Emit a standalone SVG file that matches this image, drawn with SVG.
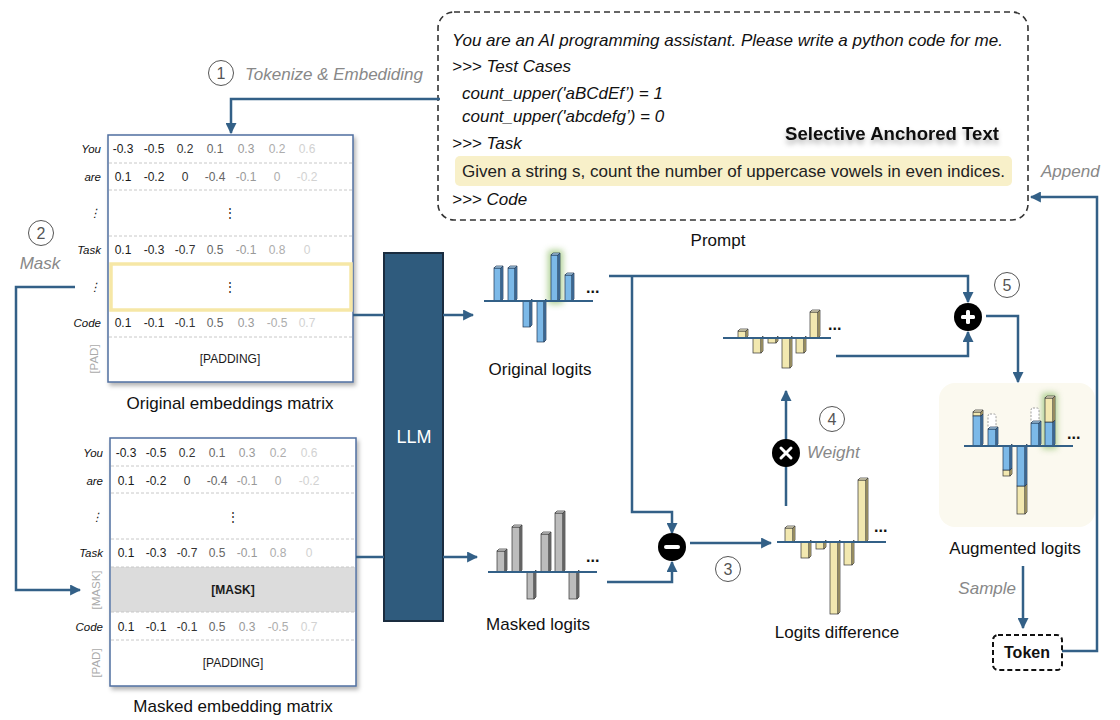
<svg xmlns="http://www.w3.org/2000/svg" width="1120" height="720" viewBox="0 0 1120 720">
<defs>
<style>
text{font-family:"Liberation Sans",Arial,sans-serif;}
.cap{font-size:17px;fill:#111;text-anchor:middle;}
.lbl{font-size:17px;fill:#888;font-style:italic;}
.num{font-size:16px;fill:#555;text-anchor:middle;}
.pr{font-size:17px;fill:#111;font-style:italic;}
.rl{font-size:11.5px;fill:#111;font-style:italic;text-anchor:end;}
.rg{font-size:11.5px;fill:#aaa;text-anchor:middle;}
.v{font-size:12px;text-anchor:middle;}
.c1{fill:#1a1a1a}.c2{fill:#262626}.c3{fill:#333}.c4{fill:#666}.c5{fill:#999}.c6{fill:#adadad}.c7{fill:#d2d2d2}
.sep{stroke:#c8c8c8;stroke-width:1;stroke-dasharray:3 2;}
.mat{fill:#fff;stroke:#4f6fa0;stroke-width:1.5;}
.conn{fill:none;stroke:#336087;stroke-width:2.5;}
.base{stroke:#336087;stroke-width:2;}
.circ{fill:#fff;stroke:#555;stroke-width:1;}
.bf{fill:#7cb9e8;stroke:#1f3550;stroke-width:0.7;}
.bs{fill:#4c82b2;stroke:#1f3550;stroke-width:0.7;}
.bt{fill:#b4dbf5;stroke:#1f3550;stroke-width:0.7;}
.gf{fill:#bcbcbc;stroke:#333;stroke-width:0.7;}
.gs{fill:#7d7d7d;stroke:#333;stroke-width:0.7;}
.gt{fill:#dedede;stroke:#333;stroke-width:0.7;}
.yf{fill:#f2e8b0;stroke:#333;stroke-width:0.7;}
.ys{fill:#c9bb78;stroke:#333;stroke-width:0.7;}
.yt{fill:#fbf4d3;stroke:#333;stroke-width:0.7;}
.dots{font-size:16px;font-weight:bold;fill:#111;}
.op{fill:#000;}
.glow{fill:#9cc57a;opacity:0.8;}
.dash{fill:#fff;stroke:#888;stroke-width:0.8;stroke-dasharray:2 1.5;}
</style>
<filter id="sh" x="-10%" y="-10%" width="130%" height="130%"><feDropShadow dx="2" dy="3" stdDeviation="2" flood-color="#000" flood-opacity="0.3"/></filter>
<filter id="tsh" x="-10%" y="-30%" width="130%" height="200%"><feDropShadow dx="0" dy="4" stdDeviation="2.5" flood-color="#000" flood-opacity="0.3"/></filter>
<filter id="gl" x="-100%" y="-50%" width="300%" height="200%"><feGaussianBlur stdDeviation="3"/></filter>
<marker id="ah" viewBox="0 0 10 10" refX="9" refY="5" markerWidth="4.4" markerHeight="4.4" orient="auto" markerUnits="strokeWidth"><path d="M0,0 L10,5 L0,10 z" fill="#336087"/></marker>
</defs>
<rect width="1120" height="720" fill="#fff"/>

<!-- Prompt -->
<g id="prompt">
<rect x="438" y="12" width="590" height="208" rx="16" fill="#fff" stroke="#333" stroke-width="1.6" stroke-dasharray="6 4"/>
<text class="pr" x="452" y="46" textLength="551" lengthAdjust="spacingAndGlyphs">You are an AI programming assistant. Please write a python code for me.</text>
<text class="pr" x="452" y="72">&gt;&gt;&gt; Test Cases</text>
<text class="pr" x="462" y="99">count_upper('aBCdEf’) = 1</text>
<text class="pr" x="462" y="122">count_upper('abcdefg’) = 0</text>
<text class="pr" x="452" y="149">&gt;&gt;&gt; Task</text>
<text x="785" y="140" font-size="17.5" font-weight="bold" fill="#111" filter="url(#tsh)" textLength="214" lengthAdjust="spacingAndGlyphs">Selective Anchored Text</text>
<rect x="455" y="156" width="557" height="30" rx="5" fill="#f8f0c9"/>
<text x="462" y="177" font-size="17" fill="#222" textLength="543" lengthAdjust="spacingAndGlyphs">Given a string s, count the number of uppercase vowels in even indices.</text>
<text class="pr" x="452" y="205">&gt;&gt;&gt; Code</text>
<text class="cap" x="718" y="246">Prompt</text>
</g>

<!-- Original embeddings matrix -->
<g id="orig-matrix">
<rect class="mat" x="108" y="135" width="245" height="247" filter="url(#sh)"/>
<line class="sep" x1="109" y1="163" x2="352" y2="163"/>
<line class="sep" x1="109" y1="190" x2="352" y2="190"/>
<line class="sep" x1="109" y1="236" x2="352" y2="236"/>
<line class="sep" x1="109" y1="337" x2="352" y2="337"/>
<rect x="111" y="264" width="240" height="46" fill="none" stroke="#f6e7a6" stroke-width="3.5"/>
<text class="rl" x="101" y="153">You</text>
<text class="rl" x="101" y="181">are</text>
<text class="rl" x="101" y="217">⋮</text>
<text class="rl" x="101" y="254">Task</text>
<text class="rl" x="101" y="291">⋮</text>
<text class="rl" x="101" y="327">Code</text>
<text class="rg" transform="translate(98,359) rotate(-90)">[PAD]</text>
<text class="v c1" x="123" y="153">-0.3</text><text class="v c2" x="154" y="153">-0.5</text><text class="v c3" x="185" y="153">0.2</text><text class="v c4" x="215" y="153">0.1</text><text class="v c5" x="246" y="153">0.3</text><text class="v c6" x="277" y="153">0.2</text><text class="v c7" x="307" y="153">0.6</text>
<text class="v c1" x="123" y="181">0.1</text><text class="v c2" x="154" y="181">-0.2</text><text class="v c3" x="185" y="181">0</text><text class="v c4" x="215" y="181">-0.4</text><text class="v c5" x="246" y="181">-0.1</text><text class="v c6" x="277" y="181">0</text><text class="v c7" x="307" y="181">-0.2</text>
<text class="v c1" x="230" y="217">⋮</text>
<text class="v c1" x="123" y="254">0.1</text><text class="v c2" x="154" y="254">-0.3</text><text class="v c3" x="185" y="254">-0.7</text><text class="v c4" x="215" y="254">0.5</text><text class="v c5" x="246" y="254">-0.1</text><text class="v c6" x="277" y="254">0.8</text><text class="v c7" x="307" y="254">0</text>
<text class="v c1" x="230" y="291">⋮</text>
<text class="v c1" x="123" y="327">0.1</text><text class="v c2" x="154" y="327">-0.1</text><text class="v c3" x="185" y="327">-0.1</text><text class="v c4" x="215" y="327">0.5</text><text class="v c5" x="246" y="327">0.3</text><text class="v c6" x="277" y="327">-0.5</text><text class="v c7" x="307" y="327">0.7</text>
<text class="v c1" x="230" y="363">[PADDING]</text>
<text class="cap" x="230" y="409">Original embeddings matrix</text>
</g>

<!-- Masked embedding matrix -->
<g id="masked-matrix">
<rect class="mat" x="110" y="438" width="246" height="248" filter="url(#sh)"/>
<rect x="111" y="567" width="244" height="45" fill="#dcdcdc"/>
<line class="sep" x1="111" y1="466" x2="355" y2="466"/>
<line class="sep" x1="111" y1="493" x2="355" y2="493"/>
<line class="sep" x1="111" y1="539" x2="355" y2="539"/>
<line class="sep" x1="111" y1="567" x2="355" y2="567" stroke="#aaa"/>
<line class="sep" x1="111" y1="612" x2="355" y2="612" stroke="#aaa"/>
<line class="sep" x1="111" y1="640" x2="355" y2="640"/>
<text class="rl" x="103" y="457">You</text>
<text class="rl" x="103" y="485">are</text>
<text class="rl" x="103" y="521">⋮</text>
<text class="rl" x="103" y="557">Task</text>
<text class="rg" transform="translate(100,590) rotate(-90)">[MASK]</text>
<text class="rl" x="103" y="631">Code</text>
<text class="rg" transform="translate(100,663) rotate(-90)">[PAD]</text>
<text class="v c1" x="126" y="457">-0.3</text><text class="v c2" x="156" y="457">-0.5</text><text class="v c3" x="187" y="457">0.2</text><text class="v c4" x="217" y="457">0.1</text><text class="v c5" x="247" y="457">0.3</text><text class="v c6" x="278" y="457">0.2</text><text class="v c7" x="309" y="457">0.6</text>
<text class="v c1" x="126" y="485">0.1</text><text class="v c2" x="156" y="485">-0.2</text><text class="v c3" x="187" y="485">0</text><text class="v c4" x="217" y="485">-0.4</text><text class="v c5" x="247" y="485">-0.1</text><text class="v c6" x="278" y="485">0</text><text class="v c7" x="309" y="485">-0.2</text>
<text class="v c1" x="233" y="521">⋮</text>
<text class="v c1" x="126" y="557">0.1</text><text class="v c2" x="156" y="557">-0.3</text><text class="v c3" x="187" y="557">-0.7</text><text class="v c4" x="217" y="557">0.5</text><text class="v c5" x="247" y="557">-0.1</text><text class="v c6" x="278" y="557">0.8</text><text class="v c7" x="309" y="557">0</text>
<text class="v c1" x="233" y="594" font-weight="bold">[MASK]</text>
<text class="v c1" x="126" y="631">0.1</text><text class="v c2" x="156" y="631">-0.1</text><text class="v c3" x="187" y="631">-0.1</text><text class="v c4" x="217" y="631">0.5</text><text class="v c5" x="247" y="631">0.3</text><text class="v c6" x="278" y="631">-0.5</text><text class="v c7" x="309" y="631">0.7</text>
<text class="v c1" x="233" y="667">[PADDING]</text>
<text class="cap" x="233" y="712">Masked embedding matrix</text>
</g>

<!-- LLM -->
<g id="llm">
<rect x="384" y="253" width="59" height="368" fill="#2f5b7d" stroke="#1a2c3f" stroke-width="2"/>
<text x="414" y="443" font-size="18" fill="#fff" text-anchor="middle">LLM</text>
</g>

<!-- Connectors -->
<g id="connectors">
<path class="conn" d="M440,99 H231 V133" marker-end="url(#ah)"/>
<path class="conn" d="M75,287 H16 V590 H80" marker-end="url(#ah)"/>
<path class="conn" d="M353,315 H384"/>
<path class="conn" d="M356,557 H384"/>
<path class="conn" d="M443,315 H473" marker-end="url(#ah)"/>
<path class="conn" d="M443,557 H477" marker-end="url(#ah)"/>
<path class="conn" d="M609,276 H968 V302" marker-end="url(#ah)"/>
<path class="conn" d="M632,276 V512 H672 V533" marker-end="url(#ah)"/>
<path class="conn" d="M607,582 H672 V562" marker-end="url(#ah)"/>
<path class="conn" d="M690,543 H771" marker-end="url(#ah)"/>
<path class="conn" d="M786,506 V391" marker-end="url(#ah)"/>
<path class="conn" d="M836,356 H968 V332" marker-end="url(#ah)"/>
<path class="conn" d="M986,316 H1018 V382" marker-end="url(#ah)"/>
<path class="conn" d="M1023,566 V628" marker-end="url(#ah)"/>
<path class="conn" d="M1062,651 H1097 V197 H1031" marker-end="url(#ah)"/>
</g>

<!-- Step labels -->
<g id="step1"><circle class="circ" cx="221" cy="73" r="12.5"/><text class="num" x="221" y="79">1</text><text class="lbl" x="245" y="80">Tokenize &amp; Embediding</text></g>
<g id="step2"><circle class="circ" cx="41" cy="233" r="12.5"/><text class="num" x="41" y="239">2</text><text class="lbl" x="40" y="269" text-anchor="middle">Mask</text></g>
<g id="step3"><circle class="circ" cx="728" cy="569" r="12.5"/><text class="num" x="728" y="575">3</text></g>
<g id="step4"><circle class="circ" cx="832" cy="419" r="12.5"/><text class="num" x="832" y="425">4</text><text class="lbl" x="807" y="458">Weight</text></g>
<g id="step5"><circle class="circ" cx="1007" cy="285" r="12.5"/><text class="num" x="1007" y="291">5</text></g>

<!-- Operators -->
<g id="minus-op"><circle class="op" cx="672" cy="547" r="14"/><rect x="664" y="545" width="16" height="4" rx="2" fill="#fff"/></g>
<g id="plus-op"><circle class="op" cx="968" cy="317" r="14"/><rect x="961" y="315" width="14" height="4" rx="1.5" fill="#fff"/><rect x="966" y="310" width="4" height="14" rx="1.5" fill="#fff"/></g>
<g id="times-op"><circle class="op" cx="786" cy="453" r="14"/><path d="M781,448 L791,458 M791,448 L781,458" stroke="#fff" stroke-width="3" stroke-linecap="round"/></g>

<!-- Original logits -->
<g id="original-logits">
<rect class="glow" x="548" y="250" width="15" height="54" filter="url(#gl)"/>
<rect class="bf" x="494" y="268" width="7" height="33"/><polygon class="bs" points="501,268 503,266 503,299 501,301"/><polygon class="bt" points="494,268 496,266 503,266 501,268"/>
<rect class="bf" x="508" y="268" width="7" height="33"/><polygon class="bs" points="515,268 517,266 517,299 515,301"/><polygon class="bt" points="508,268 510,266 517,266 515,268"/>
<rect class="bf" x="523" y="301" width="7" height="26"/><polygon class="bs" points="530,301 532,299 532,325 530,327"/>
<rect class="bf" x="537" y="301" width="7" height="41"/><polygon class="bs" points="544,301 546,299 546,340 544,342"/>
<rect class="bf" x="551" y="255" width="7" height="46"/><polygon class="bs" points="558,255 560,253 560,299 558,301"/><polygon class="bt" points="551,255 553,253 560,253 558,255"/>
<rect class="bf" x="565" y="275" width="7" height="26"/><polygon class="bs" points="572,275 574,273 574,299 572,301"/><polygon class="bt" points="565,275 567,273 574,273 572,275"/>
<line class="base" x1="484" y1="301" x2="593" y2="301"/>
<text class="dots" x="586" y="293">...</text>
<text class="cap" x="540" y="375">Original logits</text>
</g>

<!-- Masked logits -->
<g id="masked-logits">
<rect class="gf" x="497" y="551" width="8" height="21"/><polygon class="gs" points="505,551 507,549 507,570 505,572"/><polygon class="gt" points="497,551 499,549 507,549 505,551"/>
<rect class="gf" x="512" y="527" width="8" height="45"/><polygon class="gs" points="520,527 522,525 522,570 520,572"/><polygon class="gt" points="512,527 514,525 522,525 520,527"/>
<rect class="gf" x="527" y="572" width="7" height="27"/><polygon class="gs" points="534,572 536,570 536,597 534,599"/>
<rect class="gf" x="541" y="534" width="8" height="38"/><polygon class="gs" points="549,534 551,532 551,570 549,572"/><polygon class="gt" points="541,534 543,532 551,532 549,534"/>
<rect class="gf" x="555" y="513" width="8" height="59"/><polygon class="gs" points="563,513 565,511 565,570 563,572"/><polygon class="gt" points="555,513 557,511 565,511 563,513"/>
<rect class="gf" x="569" y="572" width="8" height="27"/><polygon class="gs" points="577,572 579,570 579,597 577,599"/>
<line class="base" x1="488" y1="572" x2="597" y2="572"/>
<text class="dots" x="586" y="562">...</text>
<text class="cap" x="538" y="630">Masked logits</text>
</g>

<!-- Logits difference -->
<g id="logits-difference">
<rect class="yf" x="785" y="528" width="8" height="14"/><polygon class="ys" points="793,528 795,526 795,540 793,542"/><polygon class="yt" points="785,528 787,526 795,526 793,528"/>
<rect class="yf" x="801" y="542" width="8" height="16"/><polygon class="ys" points="809,542 811,540 811,556 809,558"/>
<rect class="yf" x="816" y="542" width="8" height="7"/><polygon class="ys" points="824,542 826,540 826,547 824,549"/>
<rect class="yf" x="830" y="542" width="8" height="72"/><polygon class="ys" points="838,542 840,540 840,612 838,614"/>
<rect class="yf" x="844" y="542" width="8" height="23"/><polygon class="ys" points="852,542 854,540 854,563 852,565"/>
<rect class="yf" x="858" y="480" width="8" height="62"/><polygon class="ys" points="866,480 868,478 868,540 866,542"/><polygon class="yt" points="858,480 860,478 868,478 866,480"/>
<line class="base" x1="777" y1="542" x2="886" y2="542"/>
<text class="dots" x="874" y="532">...</text>
<text class="cap" x="837" y="638">Logits difference</text>
</g>

<!-- Weighted difference -->
<g id="weighted-difference">
<rect class="yf" x="738" y="331" width="8" height="7"/><polygon class="ys" points="746,331 748,329 748,336 746,338"/><polygon class="yt" points="738,331 740,329 748,329 746,331"/>
<rect class="yf" x="753" y="338" width="8" height="15"/><polygon class="ys" points="761,338 763,336 763,351 761,353"/>
<rect class="yf" x="768" y="338" width="8" height="5"/><polygon class="ys" points="776,338 778,336 778,341 776,343"/>
<rect class="yf" x="782" y="338" width="8" height="30"/><polygon class="ys" points="790,338 792,336 792,366 790,368"/>
<rect class="yf" x="796" y="338" width="8" height="15"/><polygon class="ys" points="804,338 806,336 806,351 804,353"/>
<rect class="yf" x="810" y="312" width="8" height="26"/><polygon class="ys" points="818,312 820,310 820,336 818,338"/><polygon class="yt" points="810,312 812,310 820,310 818,312"/>
<line class="base" x1="723" y1="338" x2="831" y2="338"/>
<text class="dots" x="828" y="330">...</text>
</g>

<!-- Augmented logits -->
<g id="augmented-logits">
<rect x="939" y="383" width="156" height="144" rx="16" fill="#fbf9ef"/>
<rect class="glow" x="1042" y="393" width="15" height="56" filter="url(#gl)"/>
<rect class="yf" x="973" y="412" width="8" height="4"/><polygon class="ys" points="981,412 983,410 983,414 981,416"/><polygon class="yt" points="973,412 975,410 983,410 981,412"/>
<rect class="bf" x="973" y="416" width="8" height="30"/><polygon class="bs" points="981,416 983,414 983,444 981,446"/>
<rect class="dash" x="988" y="414" width="8" height="15" rx="2"/>
<rect class="bf" x="988" y="429" width="8" height="17"/><polygon class="bs" points="996,429 998,427 998,444 996,446"/><polygon class="bt" points="988,429 990,427 998,427 996,429"/>
<rect class="yf" x="1003" y="470" width="7" height="6"/><polygon class="ys" points="1010,470 1012,468 1012,474 1010,476"/>
<rect class="bf" x="1003" y="446" width="7" height="24"/><polygon class="bs" points="1010,446 1012,444 1012,468 1010,470"/>
<rect class="yf" x="1017" y="486" width="8" height="28"/><polygon class="ys" points="1025,486 1027,484 1027,512 1025,514"/>
<rect class="bf" x="1017" y="446" width="8" height="40"/><polygon class="bs" points="1025,446 1027,444 1027,484 1025,486"/>
<rect class="dash" x="1031" y="408" width="8" height="15" rx="2"/>
<rect class="bf" x="1031" y="423" width="8" height="23"/><polygon class="bs" points="1039,423 1041,421 1041,444 1039,446"/><polygon class="bt" points="1031,423 1033,421 1041,421 1039,423"/>
<rect class="bf" x="1045" y="422" width="8" height="24"/><polygon class="bs" points="1053,422 1055,420 1055,444 1053,446"/>
<rect class="yf" x="1045" y="398" width="8" height="24"/><polygon class="ys" points="1053,398 1055,396 1055,420 1053,422"/><polygon class="yt" points="1045,398 1047,396 1055,396 1053,398"/>
<line class="base" x1="964" y1="446" x2="1073" y2="446"/>
<text class="dots" x="1067" y="439">...</text>
<text class="cap" x="1015" y="554">Augmented logits</text>
</g>

<!-- Sample / Token / Append -->
<g id="sample-label"><text class="lbl" x="1016" y="594" text-anchor="end">Sample</text></g>
<g id="token">
<rect x="993" y="635" width="69" height="35" rx="5" fill="#fff" stroke="#111" stroke-width="2" stroke-dasharray="5 3"/>
<text x="1027" y="658" font-size="16" font-weight="bold" fill="#111" text-anchor="middle">Token</text>
</g>
<g id="append-label"><text class="lbl" x="1041" y="177">Append</text></g>
</svg>
